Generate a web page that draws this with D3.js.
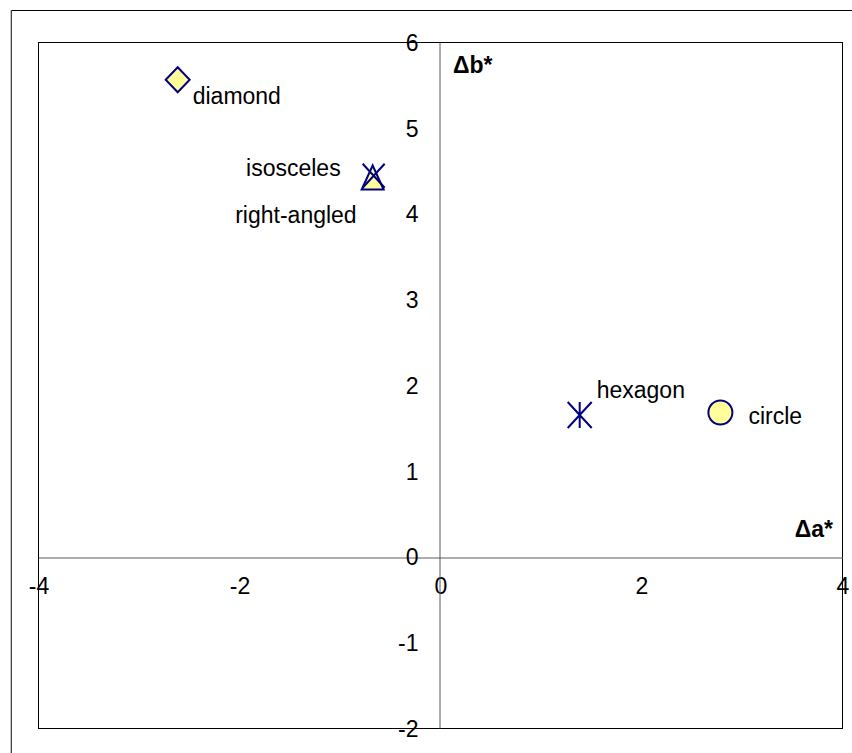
<!DOCTYPE html>
<html>
<head>
<meta charset="utf-8">
<script src="https://cdn.jsdelivr.net/npm/d3@7"></script>
<style>
  html, body { margin: 0; padding: 0; background: #fff; }
  svg { display: block; }
  text { font-family: "Liberation Sans", Arial, sans-serif; }
</style>
</head>
<body>
<svg id="chart" width="852" height="753"></svg>
<script>
// ---- data ----
const shapeNames = ["diamond", "isosceles", "right-angled", "hexagon", "circle"];
const deltaA = [-2.61, -0.66, -0.67, 1.39, 2.79];
const deltaB = [5.56, 4.44, 4.42, 1.65, 1.68];
const markerTypes = ["diamond", "cross", "triangle", "asterisk", "circle"];
const xTicks = [-4, -2, 0, 2, 4];
const yTicks = [-2, -1, 0, 1, 2, 3, 4, 5, 6];
const xTitle = "\u0394a*";
const yTitle = "\u0394b*";

// ---- layout ----
const W = 852, H = 753;
const plot = { left: 38, top: 42, right: 842, bottom: 728 };
const FONT = 23;
const fillCol = "#FFFF99", strokeCol = "#000080";
const axisCol = "#5a5a5a";

const svg = d3.select("#chart");

// outer frame
svg.append("rect").attr("x", 11.5).attr("y", 10.5)
  .attr("width", W + 10).attr("height", H + 10)
  .attr("fill", "none").attr("stroke", "#000").attr("stroke-width", 1);
svg.append("line").attr("x1", 11).attr("x2", 11).attr("y1", 10).attr("y2", H)
  .attr("stroke", "#888").attr("stroke-width", 1);

const x = d3.scaleLinear().domain([-4, 4]).range([plot.left, plot.right]);
const y = d3.scaleLinear().domain([-2, 6]).range([plot.bottom, plot.top]);

// plot area border
svg.append("rect")
  .attr("x", plot.left + 0.5).attr("y", plot.top + 0.5)
  .attr("width", plot.right - plot.left).attr("height", plot.bottom - plot.top)
  .attr("fill", "none").attr("stroke", "#000").attr("stroke-width", 1);

// x axis through y=0
const gx = svg.append("g")
  .attr("transform", `translate(0.5,${Math.round(y(0)) + 0.5})`)
  .call(d3.axisBottom(x).tickValues(xTicks).tickSize(0).tickPadding(20).tickFormat(d3.format("d")));
gx.select(".domain").attr("stroke", axisCol).attr("stroke-width", 1);
gx.selectAll("text").attr("font-size", FONT).attr("fill", "#000")
  .style("font-family", '"Liberation Sans", Arial, sans-serif')
  .text(d => d < 0 ? "-" + Math.abs(d) : d);

// y axis through x=0
const gy = svg.append("g")
  .attr("transform", `translate(${Math.round(x(0)) - 0.5},0)`)
  .call(d3.axisLeft(y).tickValues(yTicks).tickSize(0).tickPadding(21).tickFormat(d3.format("d")));
gy.select(".domain").attr("stroke", axisCol).attr("stroke-width", 1);
gy.selectAll("text").attr("font-size", FONT).attr("fill", "#000").attr("dy", "0.36em")
  .style("font-family", '"Liberation Sans", Arial, sans-serif')
  .text(d => d < 0 ? "-" + Math.abs(d) : d);

// axis titles
svg.append("text").attr("x", x(0) + 13).attr("y", plot.top + 31)
  .attr("font-size", FONT).attr("font-weight", "bold").text(yTitle);
svg.append("text").attr("x", plot.right - 9).attr("y", y(0) - 20)
  .attr("text-anchor", "end")
  .attr("font-size", FONT).attr("font-weight", "bold").text(xTitle);

// marker shapes (pixel geometry)
const markerPath = {
  diamond: "M0,-12.5L12,0L0,12.5L-12,0Z",
  triangle: "M0,-12L11,12L-11,12Z",
  cross: "M-11,-12L11,12M11,-12L-11,12",
  asterisk: "M-12,-13L12,13M12,-13L-12,13M0,-13L0,13",
  circle: "M12,0A12,12 0 1,1 -12,0A12,12 0 1,1 12,0Z"
};
const filled = { diamond: true, triangle: true, circle: true, cross: false, asterisk: false };

// label placement relative to marker (layout)
const labelPlace = {
  "diamond": { dx: 15, dy: 24, anchor: "start" },
  "isosceles": { dx: -33, dy: 0, anchor: "end" },
  "right-angled": { dx: -16, dy: 46, anchor: "end" },
  "hexagon": { dx: 17, dy: -17, anchor: "start" },
  "circle": { dx: 28, dy: 12, anchor: "start" }
};

const pts = shapeNames.map((n, i) => ({ name: n, a: deltaA[i], b: deltaB[i], m: markerTypes[i] }));
// draw filled first, then lines on top
const order = pts.slice().sort((p, q) => (filled[q.m] ? 1 : 0) - (filled[p.m] ? 1 : 0));

svg.append("g").selectAll("path").data(order).join("path")
  .attr("transform", d => `translate(${x(d.a)},${y(d.b)})`)
  .attr("d", d => markerPath[d.m])
  .attr("fill", d => filled[d.m] ? fillCol : "none")
  .attr("stroke", strokeCol).attr("stroke-width", 2)
  .attr("stroke-linejoin", "miter");

svg.append("g").selectAll("text").data(pts).join("text")
  .attr("x", d => x(d.a) + labelPlace[d.name].dx)
  .attr("y", d => y(d.b) + labelPlace[d.name].dy)
  .attr("text-anchor", d => labelPlace[d.name].anchor)
  .attr("font-size", FONT).attr("fill", "#000")
  .text(d => d.name);
</script>
</body>
</html>
